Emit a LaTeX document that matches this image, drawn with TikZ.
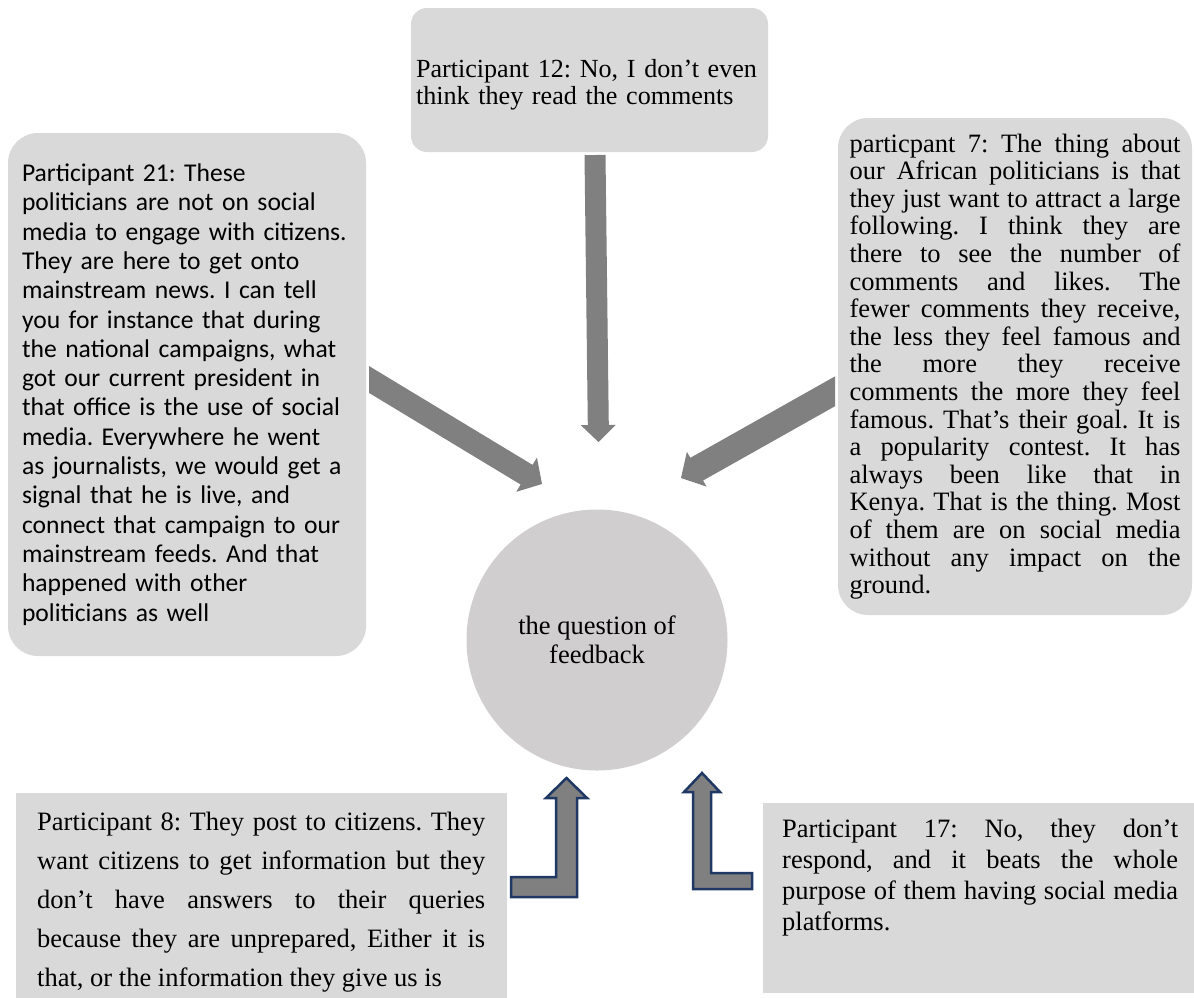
\documentclass[tikz,border=0pt]{standalone}
\usepackage{fontspec}
\setmainfont{Liberation Serif}
\newfontfamily\carlito{Carlito}
\usetikzlibrary{calc}
\frenchspacing

\definecolor{boxgray}{HTML}{D9D9D9}
\definecolor{circgray}{HTML}{D0CECE}
\definecolor{arrowgray}{HTML}{808080}
\definecolor{navyline}{HTML}{1F3864}

% broad block arrow: #1 start, #2 tip, #3 shaft half width, #4 head half width, #5 head length
\newcommand{\fatarrow}[5]{%
  \coordinate (fa-h) at ($(#2)!#5!(#1)$);
  \fill[arrowgray] ($(#1)!#3!90:(#2)$) -- ($(fa-h)!#3!90:(#2)$) -- ($(fa-h)!#4!90:(#2)$)
    -- (#2) -- ($(fa-h)!#4!-90:(#2)$) -- ($(fa-h)!#3!-90:(#2)$) -- ($(#1)!#3!-90:(#2)$) -- cycle;
}

\begin{document}
\begin{tikzpicture}[x=1pt,y=-1pt,
  quotebox/.style={fill=boxgray, draw=none, inner ysep=0pt},
  serif/.style={font={\fontsize{26.5}{#1}\selectfont}},
  bentarrow/.style={fill=arrowgray, draw=navyline, line width=2.5pt, line join=miter}]

\useasboundingbox (0,0) rectangle (1194,997);
\clip (0,0) rectangle (1194,997);

% quotation boxes
\node[quotebox, rounded corners=16pt, minimum width=357pt, minimum height=144pt,
      text width=347pt, inner xsep=5pt, align=left,
      font={\fontsize{26.1}{27.3}\selectfont}] (p12) at (589.5,80)
  {\rule{0pt}{27pt}Participant 12: No, I don’t even\\think they read the comments};

\node[quotebox, rounded corners=30pt, minimum width=358pt, minimum height=523pt,
      text width=330pt, inner xsep=14pt, align=left,
      font={\carlito\fontsize{25.6}{29.3}\selectfont}] (p21) at (187,394.5)
  {Participant 21: These\\
   politicians are not on social\\
   media to engage with citizens.\\
   They are here to get onto\\
   mainstream news. I can tell\\
   you for instance that during\\
   the national campaigns, what\\
   got our current president in\\
   that office is the use of social\\
   media. Everywhere he went\\
   as journalists, we would get a\\
   signal that he is live, and\\
   connect that campaign to our\\
   mainstream feeds. And that\\
   happened with other\\
   politicians as well};

\node[quotebox, rounded corners=30pt, minimum width=354pt, minimum height=497pt,
      text width=331pt, inner xsep=11.5pt, align=justify, serif=27.6] (p7) at (1015,366.5)
  {particpant 7: The thing about\linebreak
   our African politicians is that\linebreak
   they just want to attract a large\linebreak
   following. I think they are\linebreak
   there to see the number of\linebreak
   comments and likes. The\linebreak
   fewer comments they receive,\linebreak
   the less they feel famous and\linebreak
   the more they receive\linebreak
   comments the more they feel\linebreak
   famous. That’s their goal. It is\linebreak
   a popularity contest. It has\linebreak
   always been like that in\linebreak
   Kenya. That is the thing. Most\linebreak
   of them are on social media\linebreak
   without any impact on the\linebreak
   ground.};

\node[quotebox, anchor=north west, minimum width=491pt, minimum height=230pt] (p8box) at (16,793) {};
\node[anchor=north west, inner sep=0pt, text width=448pt, align=justify, serif=39] (p8) at (37,803)
  {\parfillskip=0pt\strut Participant 8: They post to citizens. They\linebreak
   want citizens to get information but they\linebreak
   don’t have answers to their queries\linebreak
   because they are unprepared, Either it is\linebreak
   that, or the information they give us is};

\node[quotebox, anchor=north west, minimum width=431pt, minimum height=190pt] (p17box) at (763,803) {};
\node[anchor=north west, inner sep=0pt, text width=396pt, align=justify, serif=31] (p17) at (782,816)
  {\strut Participant 17: No, they don’t\linebreak
   respond, and it beats the whole\linebreak
   purpose of them having social media\linebreak
   platforms.};

% central theme
\node[circle, fill=circgray, minimum size=261pt, inner sep=0pt, align=center, serif=28.5] (fb) at (597,640)
  {the question of\\feedback};

% block arrows towards the theme
\coordinate (a12s) at (595,155);
\coordinate (a12e) at (598.5,442);
\fatarrow{a12s}{a12e}{10.5pt}{17.5pt}{17pt}

\coordinate (a21s) at (355,371);
\coordinate (a21e) at (542,484);
\begin{scope}
  \clip (369,300) rectangle (620,530);
  \fatarrow{a21s}{a21e}{11.5pt}{20pt}{18pt}
\end{scope}

\coordinate (a7s) at (849,383.4);
\coordinate (a7e) at (681,478);
\begin{scope}
  \clip (620,300) rectangle (835,530);
  \fatarrow{a7s}{a7e}{13pt}{20pt}{18pt}
\end{scope}

% bent up-arrows
\filldraw[bentarrow] (511,877) -- (556,877) -- (556,798) -- (546,798) -- (566.5,778)
  -- (587,798) -- (577,798) -- (577,897) -- (511,897) -- cycle;
\filldraw[bentarrow] (693,889) -- (693,792) -- (684,792) -- (702,773) -- (720,792)
  -- (711,792) -- (711,873) -- (752,873) -- (752,889) -- cycle;

\end{tikzpicture}
\end{document}
